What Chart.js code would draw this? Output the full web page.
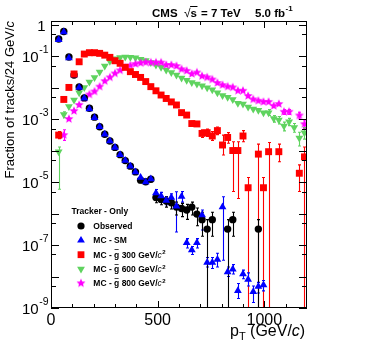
<!DOCTYPE html>
<html><head><meta charset="utf-8">
<script src="https://cdn.jsdelivr.net/npm/chart.js@4.4.0/dist/chart.umd.min.js"></script>
<style>html,body{margin:0;padding:0;background:#fff;}#wrap{width:366px;height:351px;position:relative;}</style>
</head><body><div id="wrap"><canvas id="c"></canvas></div>
<script>
// ---- data ----
const binCenters = [12,36,60,84,108,132,156,180,204,228,252,276,300,324,348,372,396,420,444,468,
  492,516,540,564,588,612,636,660,684,708,732,756,780,804,828,852,876,900,924,948,
  972,996,1020,1044,1068,1092,1116,1140,1164,1188];

const observed = [null,0.35,0.6,0.093,0.025,0.0104,0.0047,0.0022,0.00115,5.7e-4,
  3.3e-4,2.0e-4,1.26e-4,7.4e-5,4.8e-5,3.2e-5,2.1e-5,1.15e-5,1.02e-5,1.22e-5,
  3.2e-6,2.8e-6,2.5e-6,2.2e-6,1.6e-6,1.45e-6,1.3e-6,1.6e-6,9.6e-7,6.4e-7,
  3.2e-7,6.4e-7,null,null,3.2e-7,6.4e-7,null,null,null,null,
  3.2e-7,null,null,null,null,null,null,null,null,null];

const mcSM = [null,0.33,0.58,0.087,0.025,0.0101,0.0046,0.0021,0.0011,5.7e-4,
  3.3e-4,2.0e-4,1.26e-4,7.4e-5,4.8e-5,3.2e-5,2.1e-5,1.4e-5,1.0e-5,1.25e-5,
  4.5e-6,3.6e-6,2.6e-6,3.2e-6,1.7e-6,3.5e-6,1.17e-7,6.9e-8,1.17e-7,8.9e-7,
  2.8e-8,2.8e-8,3.5e-8,1.6e-6,1.4e-8,1.7e-8,3.5e-9,1.2e-8,8.1e-9,3.3e-9,
  4.8e-9,5.4e-9,null,null,null,null,null,null,null,null];

const gluino300 = [null,3.1e-4,4.2e-3,0.0101,0.027,0.066,0.116,0.128,0.128,0.122,
  0.107,0.091,0.071,0.059,0.044,0.032,0.026,0.021,0.0155,0.0107,
  7.9e-3,5.8e-3,4.5e-3,3.5e-3,2.8e-3,1.6e-3,1.34e-3,7.2e-4,7.0e-4,3.5e-4,
  3.7e-4,2.9e-4,4.3e-4,1.5e-4,2.6e-4,1.0e-4,1.0e-4,2.9e-4,6.6e-6,null,
  7.7e-5,6.6e-6,9.2e-5,null,9.2e-5,null,null,null,1.9e-5,6.3e-5];

const gluino600 = [null,9.1e-5,1.4e-3,2.5e-3,4.0e-3,6.8e-3,0.010,0.015,0.021,0.031,
  0.048,0.068,0.083,0.09,0.093,0.092,0.088,0.08,0.072,0.062,
  0.052,0.044,0.036,0.03,0.025,0.02,0.017,0.0145,0.013,0.0115,
  0.0098,0.0085,0.0068,0.0056,0.0049,0.0042,0.0032,0.003,0.0024,0.0021,
  0.0019,0.0016,0.0016,0.00105,9.3e-4,6.0e-4,8.2e-4,5.4e-4,2.5e-4,3.7e-4];

const gluino800 = [null,null,3.1e-4,1.0e-3,1.8e-3,2.8e-3,4.5e-3,6.0e-3,7.5e-3,0.0107,
  0.016,0.021,0.028,0.035,0.043,0.05,0.056,0.06,0.063,0.062,
  0.062,0.062,0.052,0.052,0.048,0.038,0.034,0.027,0.030,0.023,
  0.021,0.018,0.014,0.012,0.0107,0.0101,7.9e-3,7.9e-3,5.4e-3,4.2e-3,
  3.8e-3,3.5e-3,3.5e-3,2.6e-3,3.0e-3,1.7e-3,1.7e-3,null,1.3e-3,6.9e-4];

// error bars: [bin center, lower, upper]  (lower 0 = down to the axis)
const observedErr = [[420,0.95e-5,1.35e-5],[444,0.84e-5,1.2e-5],[468,1.02e-5,1.42e-5],
  [492,2.2e-6,4.2e-6],[516,1.9e-6,3.7e-6],[540,1.6e-6,3.4e-6],[564,1.4e-6,3.0e-6],
  [588,0.9e-6,2.3e-6],[612,0.8e-6,2.1e-6],[636,0.65e-6,1.95e-6],[660,0.9e-6,2.3e-6],
  [684,4.1e-7,1.5e-6],[708,1.9e-7,1.1e-6],[732,0,6.4e-7],[756,1.9e-7,1.1e-6],
  [828,0,6.4e-7],[852,1.9e-7,1.1e-6],[972,0,6.4e-7]];
const mcSMErr = [[492,3.5e-6,5.8e-6],[516,2.8e-6,4.7e-6],[540,1.9e-6,3.4e-6],[564,2.4e-6,4.2e-6],
  [588,2.6e-7,4.9e-6],[612,2.3e-6,5.0e-6],[636,8e-8,1.6e-7],[660,5e-8,9e-8],[684,8e-8,1.6e-7],
  [708,3.0e-7,1.3e-6],[732,2e-8,4e-8],[756,1.8e-8,4e-8],[780,2e-8,5.5e-8],[804,3.3e-8,3.4e-6],
  [828,1e-8,2e-8],[852,1.2e-8,2.4e-8],[876,2e-9,6e-9],[900,8.5e-9,1.6e-8],[924,5e-9,1.3e-8],
  [948,1.5e-9,5e-9],[972,3e-9,6.5e-9],[996,3.5e-9,7.5e-9]];
const gluino300Err = [[36,2.4e-4,4.0e-4],[660,6e-4,8.5e-4],[684,5.8e-4,8.3e-4],[708,2.6e-4,4.6e-4],
  [732,2.8e-4,4.8e-4],[756,2.1e-4,4.0e-4],[780,3.2e-4,5.6e-4],[804,7.2e-5,3.1e-4],
  [828,1.7e-4,3.7e-4],[852,5e-6,1.9e-4],[876,3e-6,1.9e-4],[900,1.9e-4,4.3e-4],
  [924,0,1.4e-5],[972,0,1.6e-4],[996,0,1.4e-5],[1020,0,1.8e-4],[1068,4.4e-5,1.6e-4],
  [1164,5e-6,3.5e-5],[1188,0,1.3e-4]];
const gluino600Err = [[36,5.9e-6,1.3e-4],[60,1.1e-3,1.7e-3],[1020,1.3e-3,2.0e-3],[1044,8e-4,1.3e-3],
  [1068,7e-4,1.2e-3],[1092,4.2e-4,8e-4],[1116,6.2e-4,1.05e-3],[1140,3.8e-4,7.2e-4],
  [1164,1.4e-4,3.8e-4],[1188,2.3e-4,5.4e-4]];
const gluino800Err = [[60,2.1e-4,4.6e-4],[1092,1.4e-3,2.0e-3],[1116,1.4e-3,2.0e-3],
  [1164,1.0e-3,1.65e-3],[1188,5e-4,9.3e-4]];

const xTickLabels = [0, 500, 1000];
const xMinorTicks = [100,200,300,400,600,700,800,900,1100];
const yLabelExponents = [0,-1,-3,-5,-7,-9];
const yDecadeExponents = [0,-1,-2,-3,-4,-5,-6,-7,-8,-9];

const seriesNames = ['Observed','MC - SM','MC - g 300 GeV/','MC - g 600 GeV/','MC - g 800 GeV/'];

// ---- helpers ----
const FONT = '"Liberation Sans", Arial, Helvetica, sans-serif';
const GREEN = '#5fd35f';
function pts(series, errs){
  const e = {}; errs.forEach(r => e[r[0]] = r);
  const out = [];
  binCenters.forEach((x,i) => {
    const y = series[i]; if (y == null) return;
    const r = e[x];
    out.push({x: x, y: y, lo: r ? r[1] : null, hi: r ? r[2] : null});
  });
  return out;
}
function makeStar(color, R){
  const s = Math.ceil(2*R + 2);
  const c = document.createElement('canvas'); c.width = c.height = s;
  const g = c.getContext('2d'); g.fillStyle = color; g.beginPath();
  for (let k = 0; k < 10; k++){
    const r = k % 2 ? R*0.45 : R;
    const a = -Math.PI/2 + k*Math.PI/5;
    const px = s/2 + r*Math.cos(a), py = s/2 + r*Math.sin(a);
    if (k) g.lineTo(px,py); else g.moveTo(px,py);
  }
  g.closePath(); g.fill();
  return c;
}
const starImg = makeStar('#ff00ff', 4.7);

const errorBars = {
  id: 'errorBars',
  beforeDatasetsDraw(chart){
    const ctx = chart.ctx, ca = chart.chartArea, xs = chart.scales.x, ys = chart.scales.y;
    ctx.save();
    ctx.beginPath(); ctx.rect(ca.left, ca.top, ca.right-ca.left, ca.bottom-ca.top); ctx.clip();
    chart.data.datasets.forEach(ds => {
      ctx.strokeStyle = ds.errColor; ctx.lineWidth = 1.1;
      ds.data.forEach(p => {
        if (p.lo == null) return;
        const px = Math.round(xs.getPixelForValue(p.x)) + 0.5;
        const yl = p.lo > 0 ? ys.getPixelForValue(p.lo) : ca.bottom;
        const yh = ys.getPixelForValue(p.hi);
        ctx.beginPath();
        ctx.moveTo(px, yl); ctx.lineTo(px, yh);
        ctx.moveTo(px-1.5, yh); ctx.lineTo(px+1.5, yh);
        if (p.lo > 0){ ctx.moveTo(px-1.5, yl); ctx.lineTo(px+1.5, yl); }
        ctx.stroke();
      });
    });
    ctx.restore();
  }
};

function drawSup(ctx, base, sup, xRight, y, bFont, sFont){
  ctx.font = sFont; const sw = ctx.measureText(sup).width;
  ctx.textAlign = 'left'; ctx.textBaseline = 'alphabetic';
  ctx.fillText(sup, xRight - sw, y - 3);
  ctx.font = bFont; const bw = ctx.measureText(base).width;
  ctx.fillText(base, xRight - sw - bw - 0.5, y + 5.5);
}

const frame = {
  id: 'frame',
  afterDatasetsDraw(chart){
    const ctx = chart.ctx, ca = chart.chartArea, xs = chart.scales.x, ys = chart.scales.y;
    ctx.save();
    ctx.strokeStyle = '#000'; ctx.lineWidth = 1;
    ctx.strokeRect(ca.left+0.5, ca.top+0.5, ca.right-ca.left-1, ca.bottom-ca.top-1);
    ctx.beginPath();
    const xt = (v, len) => {
      const px = Math.round(xs.getPixelForValue(v)) + 0.5;
      ctx.moveTo(px, ca.bottom); ctx.lineTo(px, ca.bottom - len);
      ctx.moveTo(px, ca.top); ctx.lineTo(px, ca.top + len);
    };
    xTickLabels.forEach(v => xt(v, 7));
    xMinorTicks.forEach(v => xt(v, 4));
    const yt = (v, len) => {
      const py = Math.round(ys.getPixelForValue(v)) + 0.5;
      ctx.moveTo(ca.left, py); ctx.lineTo(ca.left + len, py);
      ctx.moveTo(ca.right, py); ctx.lineTo(ca.right - len, py);
    };
    yDecadeExponents.forEach(e => { yt(Math.pow(10, e), 8); if (e < 0) yt(5*Math.pow(10, e), 5); });
    ctx.stroke();
    ctx.restore();
  },
  afterDraw(chart){
    const ctx = chart.ctx, ca = chart.chartArea, xs = chart.scales.x, ys = chart.scales.y;
    ctx.save();
    ctx.fillStyle = '#000';
    // x tick labels
    ctx.font = '16px ' + FONT; ctx.textAlign = 'center'; ctx.textBaseline = 'alphabetic';
    xTickLabels.forEach(v => ctx.fillText(String(v), xs.getPixelForValue(v), 325));
    // y tick labels
    yLabelExponents.forEach(e => {
      const py = ys.getPixelForValue(Math.pow(10, e));
      if (e === 0){
        ctx.font = '15px ' + FONT; ctx.textAlign = 'right'; ctx.textBaseline = 'alphabetic';
        ctx.fillText('1', 45.5, py + 6);
      } else {
        drawSup(ctx, '10', String(e), 48.5, py, '15px ' + FONT, '10.5px ' + FONT);
      }
    });
    // x title
    ctx.textAlign = 'left'; ctx.textBaseline = 'alphabetic';
    let x = 230;
    ctx.font = '16px ' + FONT; ctx.fillText('p', x, 336); x += ctx.measureText('p').width;
    ctx.font = '11px ' + FONT; ctx.fillText('T', x, 340); x += ctx.measureText('T').width;
    ctx.font = '16px ' + FONT; ctx.fillText(' (GeV/', x, 336); x += ctx.measureText(' (GeV/').width;
    ctx.font = 'italic 16px ' + FONT; ctx.fillText('c', x, 336); x += ctx.measureText('c').width;
    ctx.font = '16px ' + FONT; ctx.fillText(')', x, 336);
    // y title
    ctx.save();
    ctx.translate(14, 21); ctx.rotate(-Math.PI/2);
    ctx.textAlign = 'right';
    ctx.font = 'italic 13px ' + FONT; const cw = ctx.measureText('c').width;
    ctx.fillText('c', 0, 0);
    ctx.font = '13px ' + FONT; ctx.fillText('Fraction of tracks/24 GeV/', -cw, 0);
    ctx.restore();
    // top title
    ctx.textAlign = 'left';
    const tf = 'bold 11.5px ' + FONT;
    ctx.font = tf; ctx.fillText('CMS', 152, 16.5);
    ctx.font = '12px ' + FONT; ctx.fillText('\u221A', 184, 16.5);
    let sx = 184 + ctx.measureText('\u221A').width;
    ctx.font = tf; ctx.fillText('s', sx, 16.5);
    const sw = ctx.measureText('s').width;
    ctx.beginPath(); ctx.lineWidth = 1; ctx.moveTo(sx - 0.5, 6.5); ctx.lineTo(sx + sw + 0.5, 6.5); ctx.stroke();
    ctx.fillText('= 7 TeV', 201, 16.5);
    ctx.fillText('5.0 fb', 255, 16.5);
    const fbw = ctx.measureText('5.0 fb').width;
    ctx.font = 'bold 8px ' + FONT; ctx.fillText('-1', 255 + fbw + 0.5, 11);
    // legend
    ctx.font = 'bold 8.5px ' + FONT;
    ctx.fillText('Tracker - Only', 71.5, 213.5);
    const rows = [226, 240.3, 254.7, 269, 283.3];
    const mx = 81;
    // markers
    ctx.fillStyle = '#000'; ctx.beginPath(); ctx.arc(mx, rows[0], 3.6, 0, 2*Math.PI); ctx.fill();
    ctx.fillStyle = '#0000ff'; ctx.beginPath();
    ctx.moveTo(mx, rows[1]-4.4); ctx.lineTo(mx+3.9, rows[1]+2.3); ctx.lineTo(mx-3.9, rows[1]+2.3); ctx.closePath(); ctx.fill();
    ctx.fillStyle = '#ff0000'; ctx.fillRect(mx-3.4, rows[2]-3.4, 6.8, 6.8);
    ctx.fillStyle = GREEN; ctx.beginPath();
    ctx.moveTo(mx, rows[3]+4.4); ctx.lineTo(mx+3.9, rows[3]-2.3); ctx.lineTo(mx-3.9, rows[3]-2.3); ctx.closePath(); ctx.fill();
    ctx.drawImage(starImg, mx - starImg.width/2, rows[4] - starImg.height/2);
    // texts
    ctx.fillStyle = '#000';
    rows.forEach((ry, i) => {
      const by = ry + 3;
      let tx = 93.3;
      ctx.font = 'bold 8.5px ' + FONT;
      if (i < 2){ ctx.fillText(seriesNames[i], tx, by); return; }
      const parts = seriesNames[i].split('g');
      ctx.fillText(parts[0], tx, by); tx += ctx.measureText(parts[0]).width;
      const gw = ctx.measureText('g').width;
      ctx.fillText('g', tx, by);
      ctx.font = 'bold 8px ' + FONT; ctx.textAlign = 'center';
      ctx.fillText('~', tx + gw/2, by - 5.5);
      ctx.textAlign = 'left';
      tx += gw;
      ctx.font = 'bold 8.5px ' + FONT;
      ctx.fillText(parts[1], tx, by); tx += ctx.measureText(parts[1]).width;
      ctx.font = 'italic 8.5px ' + FONT; ctx.fillText('c', tx, by); tx += ctx.measureText('c').width;
      ctx.font = 'bold 6px ' + FONT; ctx.fillText('2', tx + 0.5, by - 3.5);
    });
    ctx.restore();
  }
};

const common = {showLine: false, pointBorderWidth: 0, pointHoverRadius: 0};
new Chart(document.getElementById('c'), {
  type: 'scatter',
  data: {
    datasets: [
      Object.assign({label: seriesNames[2], data: pts(gluino300, gluino300Err), pointStyle: 'rect', pointRadius: 4.9,
        backgroundColor: '#ff0000', borderColor: '#ff0000', errColor: '#ff0000', order: 1}, common),
      Object.assign({label: seriesNames[1], data: pts(mcSM, mcSMErr), pointStyle: 'triangle', pointRadius: 4.5,
        backgroundColor: '#0000ff', borderColor: '#0000ff', errColor: '#0000ff', order: 2}, common),
      Object.assign({label: seriesNames[0], data: pts(observed, observedErr), pointStyle: 'circle', pointRadius: 3.7,
        backgroundColor: '#000000', borderColor: '#000000', errColor: '#000000', order: 3}, common),
      Object.assign({label: seriesNames[4], data: pts(gluino800, gluino800Err), pointStyle: starImg, pointRadius: 4.5,
        backgroundColor: '#ff00ff', borderColor: '#ff00ff', errColor: '#ff00ff', order: 4}, common),
      Object.assign({label: seriesNames[3], data: pts(gluino600, gluino600Err), pointStyle: 'triangle', pointRotation: 180, pointRadius: 4.5,
        backgroundColor: GREEN, borderColor: GREEN, errColor: GREEN, order: 5}, common)
    ]
  },
  options: {
    responsive: true, maintainAspectRatio: false, animation: false, devicePixelRatio: 1,
    events: [],
    layout: {padding: {left: 51, top: 21, right: 59, bottom: 43}},
    plugins: {legend: {display: false}, tooltip: {enabled: false}, title: {display: false}},
    scales: {
      x: {type: 'linear', min: 0, max: 1200, display: false},
      y: {type: 'logarithmic', min: 1e-9, max: 1.3, display: false}
    }
  },
  plugins: [errorBars, frame]
});
</script>
</body></html>
